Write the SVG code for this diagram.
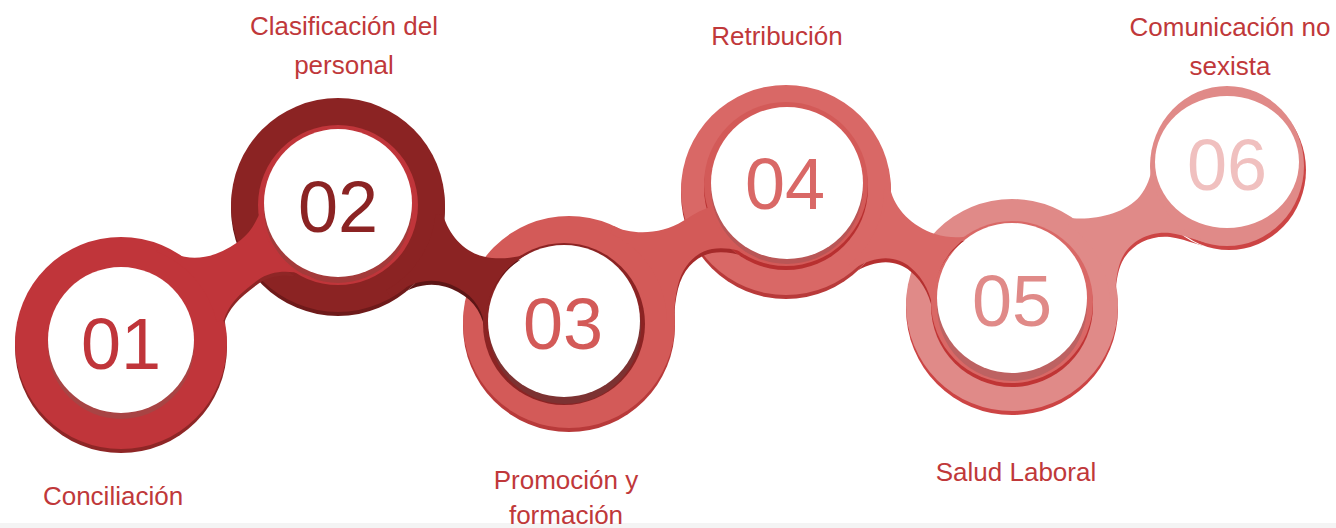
<svg xmlns="http://www.w3.org/2000/svg" width="1336" height="528" viewBox="0 0 1336 528">
<style>
.lbl{font-family:"Liberation Sans",Arial,sans-serif;font-size:26px;fill:#c0383a;text-anchor:middle}
.num{font-family:"Liberation Sans",Arial,sans-serif;font-size:72px;text-anchor:middle}
.w{fill:#ffffff}
</style>
<defs>
<clipPath id="cA"><path clip-rule="evenodd" d="M0 0H1336V528H0Z M15 343a106 106 0 1 0 212 0a106 106 0 1 0 -212 0Z M258 205a80 80 0 1 0 160 0a80 80 0 1 0 -160 0Z"/></clipPath>
<clipPath id="cB"><path clip-rule="evenodd" d="M0 0H1336V528H0Z M231 205a107 107 0 1 0 214 0a107 107 0 1 0 -214 0Z M483 324a81 81 0 1 0 162 0a81 81 0 1 0 -162 0Z"/></clipPath>
<clipPath id="cC"><path clip-rule="evenodd" d="M0 0H1336V528H0Z M463 322a106 106 0 1 0 212 0a106 106 0 1 0 -212 0Z M704 184a82 82 0 1 0 164 0a82 82 0 1 0 -164 0Z"/></clipPath>
<clipPath id="cD"><path clip-rule="evenodd" d="M0 0H1336V528H0Z M681 190a105 105 0 1 0 210 0a105 105 0 1 0 -210 0Z M931 302a81 81 0 1 0 162 0a81 81 0 1 0 -162 0Z"/></clipPath>
<clipPath id="cE"><path clip-rule="evenodd" d="M0 0H1336V528H0Z M906 305a106 106 0 1 0 212 0a106 106 0 1 0 -212 0Z M1150 166a77 80 0 1 0 154 0a77 80 0 1 0 -154 0Z"/></clipPath>
</defs>
<rect x="0" y="0" width="1336" height="528" fill="#ffffff"/>
<rect x="0" y="523" width="1336" height="5" fill="#f4f4f4"/>

<g id="node01">
<circle cx="121" cy="347" r="106" fill="#8e2626"/>
<circle cx="121" cy="343" r="106" fill="#c0353a"/>
<circle cx="121" cy="346" r="73" fill="#a84444"/>
<circle class="w" cx="121" cy="340" r="73"/>
<text class="num" x="121" y="369" fill="#c0353a">01</text>
</g>
<g id="node02">
<circle cx="338" cy="209" r="107" fill="#6e1a1a"/>
<circle cx="338" cy="205" r="107" fill="#8b2323"/>
<circle cx="338" cy="205" r="80" fill="#c0353a"/>
<circle cx="338" cy="209" r="74" fill="#a43a3a"/>
<circle class="w" cx="338" cy="203" r="74"/>
<text class="num" x="338" y="232" fill="#8b2323">02</text>
</g>
<g id="node03">
<circle cx="569" cy="326" r="106" fill="#b83a3a"/>
<circle cx="569" cy="322" r="106" fill="#d35a58"/>
<circle cx="564" cy="324" r="81" fill="#8b2323"/>
<circle cx="565" cy="328" r="76" fill="#7c3232"/>
<circle class="w" cx="564" cy="321" r="76"/>
<text class="num" x="563" y="349" fill="#d35a58">03</text>
</g>
<g id="node04">
<circle cx="786" cy="194" r="105" fill="#b83a3a"/>
<circle cx="786" cy="190" r="105" fill="#d96866"/>
<circle cx="786" cy="188" r="82" fill="#b83030"/>
<circle cx="786" cy="184" r="82" fill="#d35a58"/>
<circle cx="787" cy="188" r="76" fill="#b95656"/>
<circle class="w" cx="787" cy="183" r="76"/>
<text class="num" x="785" y="209" fill="#d96866">04</text>
</g>
<g id="node05">
<circle cx="1012" cy="309" r="106" fill="#cc4444"/>
<circle cx="1012" cy="305" r="106" fill="#e08a88"/>
<circle cx="1012" cy="306" r="81" fill="#c03535"/>
<circle cx="1012" cy="302" r="81" fill="#d96866"/>
<circle cx="1012" cy="306" r="75" fill="#bd6262"/>
<circle class="w" cx="1012" cy="298" r="75"/>
<text class="num" x="1012" y="326" fill="#e08a88">05</text>
</g>
<g id="node06">
<ellipse cx="1229" cy="170" rx="77" ry="80" fill="#cc4444"/>
<ellipse cx="1227" cy="166" rx="77" ry="80" fill="#e08a88"/>
<ellipse class="w" cx="1227" cy="162" rx="72" ry="66"/>
<text class="num" x="1227" y="190" fill="#f0c0bf">06</text>
</g>

<g id="connectors">
<g id="c01-02">
<path clip-path="url(#cA)" transform="translate(0,4)" fill="#8e2626" d="M159 245Q195 272 238 242C250 234 256 222 260.3 211.8A78 78 0 0 0 316.5 280C300 270 274 268 258 280C240 293 228 305 224 320L216.6 321.6A98 98 0 0 0 156.6 251.7Z"/>
<path fill="#c0353a" d="M159 245Q195 272 238 242C250 234 256 222 260.3 211.8A78 78 0 0 0 316.5 280C300 270 274 268 258 280C240 293 228 305 224 320L216.6 321.6A98 98 0 0 0 156.6 251.7Z"/>
</g>
<g id="c02-03">
<path clip-path="url(#cB)" transform="translate(0,4)" fill="#5e1616" d="M443 215C450 238 468 256 492 258C508 259 522 257 533.1 251.3A79 79 0 0 0 485.3 330.9C484 312 475 297 458 288C440 278 418 276 390 297L386.2 290.3A98 98 0 0 0 435.6 214.2Z"/>
<path fill="#8b2323" d="M443 215C450 238 468 256 492 258C508 259 522 257 533.1 251.3A79 79 0 0 0 485.3 330.9C484 312 475 297 458 288C440 278 418 276 390 297L386.2 290.3A98 98 0 0 0 435.6 214.2Z"/>
</g>
<g id="c03-04">
<path clip-path="url(#cC)" transform="translate(0,4)" fill="#a52a2a" d="M613.8 225.9C628 234 660 236 683 221C693 215 700 210 709.5 207.4A80 80 0 0 0 758.6 259.2C748 252 728 246 712 249C696 252 683 265 678 285C675 297 674 310 674.5 320L667 320.1A98 98 0 0 0 610.4 233.2Z"/>
<path fill="#d35a58" d="M613.8 225.9C628 234 660 236 683 221C693 215 700 210 709.5 207.4A80 80 0 0 0 758.6 259.2C748 252 728 246 712 249C696 252 683 265 678 285C675 297 674 310 674.5 320L667 320.1A98 98 0 0 0 610.4 233.2Z"/>
</g>
<g id="c04-05">
<path clip-path="url(#cD)" transform="translate(0,4)" fill="#b53030" d="M890 188C895 210 912 226 935 234C948 238 960 238 969 235.7A79 79 0 0 0 933.4 310.3C931 296 925 279 910 267C898 257 878 253 852 270L848.4 265.6A98 98 0 0 0 884 188.1Z"/>
<path fill="#d96866" d="M890 188C895 210 912 226 935 234C948 238 960 238 969 235.7A79 79 0 0 0 933.4 310.3C931 296 925 279 910 267C898 257 878 253 852 270L848.4 265.6A98 98 0 0 0 884 188.1Z"/>
</g>
<g id="c05-06">
<path clip-path="url(#cE)" transform="translate(0,4)" fill="#cc4444" d="M1072.8 218.2C1095 220 1125 214 1140 196C1147 187 1151 176 1152 166A75 78 0 0 0 1220.5 243.7C1205 245 1190 236 1170 233C1148 231 1130 242 1122 258C1117 268 1115 285 1115.5 300L1109.9 300.2A98 98 0 0 0 1068.2 224.7Z"/>
<path fill="#e08a88" d="M1072.8 218.2C1095 220 1125 214 1140 196C1147 187 1151 176 1152 166A75 78 0 0 0 1220.5 243.7C1205 245 1190 236 1170 233C1148 231 1130 242 1122 258C1117 268 1115 285 1115.5 300L1109.9 300.2A98 98 0 0 0 1068.2 224.7Z"/>
</g>
</g>

<g id="labels">
<text class="lbl" x="113" y="505">Conciliación</text>
<text class="lbl" x="344" y="35">Clasificación del</text>
<text class="lbl" x="344" y="74">personal</text>
<text class="lbl" x="566" y="489">Promoción y</text>
<text class="lbl" x="566" y="524">formación</text>
<text class="lbl" x="777" y="45">Retribución</text>
<text class="lbl" x="1016" y="481">Salud Laboral</text>
<text class="lbl" x="1230" y="36">Comunicación no</text>
<text class="lbl" x="1230" y="75">sexista</text>
</g>
</svg>
